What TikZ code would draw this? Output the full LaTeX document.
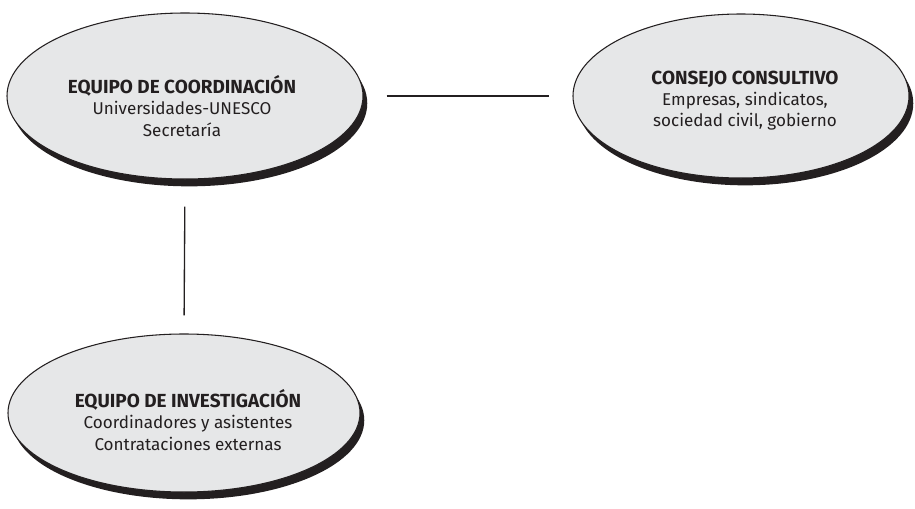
\documentclass[tikz,border=0pt]{standalone}
\usepackage{fontspec}
\setmainfont{Fira Sans}
\usetikzlibrary{shapes.geometric,shadows}
\definecolor{ink}{HTML}{231F20}
\definecolor{cloud}{HTML}{E6E7E8}
\newcommand{\headline}[1]{{\fontsize{14.2}{15.8}\selectfont\bfseries #1}}
\tikzset{
  bubble/.style={ellipse, draw=ink, line width=0.8pt, fill=cloud, inner sep=0pt,
    drop shadow={shadow xshift=3.2pt, shadow yshift=-5.5pt, fill=ink, opacity=1}},
  txt/.style={align=center, text=ink, font=\fontsize{12.8}{15.8}\selectfont, inner sep=0pt},
  link/.style={draw=ink, line width=1pt}
}
\begin{document}
\begin{tikzpicture}[x=0.75pt,y=-0.75pt]
\useasboundingbox (0,0) rectangle (915,508);
\node[bubble, minimum width=356*0.75pt, minimum height=166*0.75pt] (e1) at (185,96) {};
\node[bubble, minimum width=336*0.75pt, minimum height=164*0.75pt] (e2) at (741,96) {};
\node[bubble, minimum width=352*0.75pt, minimum height=158*0.75pt] (e3) at (184,413) {};
\node[txt] (t1) at (182,106) {\headline{EQUIPO DE COORDINACIÓN}\\Universidades-UNESCO\\Secretaría};
\node[txt] (t2) at (745,101) {\headline{CONSEJO CONSULTIVO}\\Empresas, sindicatos,\\sociedad civil, gobierno};
\node[txt] (t3) at (188,420) {\headline{EQUIPO DE INVESTIGACIÓN}\\Coordinadores y asistentes\\Contrataciones externas};
\draw[link, shorten <=23*0.75pt, shorten >=23*0.75pt] (e1.east) -- (e2.west);
\draw[link, shorten <=27*0.75pt, shorten >=18*0.75pt] (e1.south) -- (e3.north);
\end{tikzpicture}
\end{document}
